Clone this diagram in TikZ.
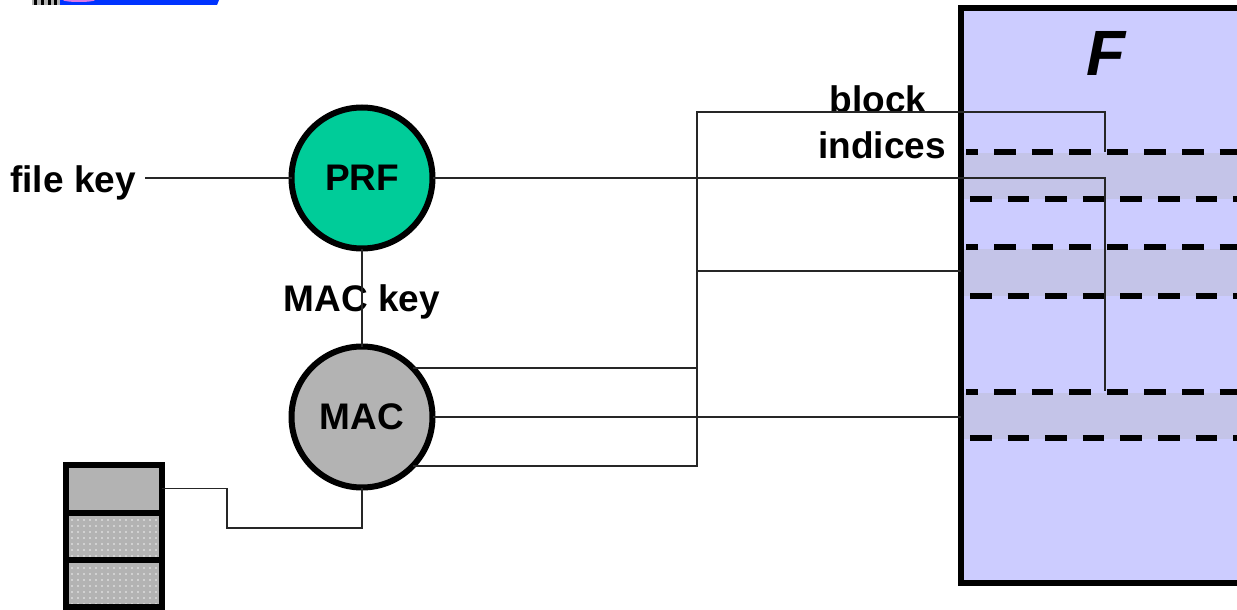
\documentclass[tikz,border=0pt]{standalone}
\usepackage{fontspec}
\setmainfont{Liberation Sans}
\usetikzlibrary{patterns.meta}
\definecolor{prfgreen}{RGB}{0,204,153}
\definecolor{macgray}{RGB}{179,179,179}
\definecolor{boxfill}{RGB}{204,204,255}
\definecolor{bandfill}{RGB}{196,196,232}
\definecolor{logoblue}{RGB}{0,51,255}
\definecolor{logopink}{RGB}{220,120,230}
\begin{document}
\begin{tikzpicture}[x=1pt,y=-1pt,
  thinline/.style={draw=black!85,line width=1.3pt},
  lbl/.style={font=\fontsize{37}{46}\selectfont\bfseries, inner sep=0pt},
  fn/.style={circle, draw=black, line width=6pt, minimum size=141pt, outer sep=0pt, font=\fontsize{37}{46}\selectfont\bfseries},
  cell/.style={draw=black, line width=6pt, minimum width=96pt, minimum height=47pt, outer sep=0pt, inner sep=0pt, anchor=north west},
  dashrow/.style={draw=black, line width=5.5pt, dash pattern=on 21.6pt off 16pt}
]
\clip (0,0) rectangle (1237,610);
% partial logo at the top-left corner
\fill[macgray] (32,0) rectangle (60,5);
\foreach \x in {34,41,48,54} \fill[black] (\x,0) rectangle ++(3,5);
\fill[logoblue] (60,0) -- (219,0) -- (217,5) -- (60,5) -- cycle;
\fill[logopink] (79,0) ellipse (16 and 2);

% file F
\node[draw=black, line width=6pt, fill=boxfill, minimum width=320pt, minimum height=575pt, outer sep=0pt, inner sep=0pt, anchor=north west] (F) at (961,8) {};
\node[font=\fontsize{64}{70}\selectfont\bfseries\itshape, inner sep=0pt] (Fl) at (1106,53) {F};
\foreach \a/\b in {153/199,249/296,393/439} \fill[bandfill] (964,\a) rectangle (1240,\b);
\foreach \y/\ph in {152/9.6,199/33.6,247/9.6,296/33.6,392/9.6,438/33.6}
  \draw[dashrow, dash phase=\ph] (966,\y) -- (1240,\y);

% functions
\node[fn, fill=prfgreen] (prf) at (362,178) {PRF};
\node[fn, fill=macgray] (mac) at (362,417) {MAC};

% labels
\node[lbl, anchor=base east] (fk) at (136,192) {file key};
\node[lbl, anchor=base] (mk) at (362,311) {MAC key};
\node[lbl, anchor=base] (bl) at (878,112) {block};
\node[lbl, anchor=base] (ind) at (882,158) {indices};

% stack of blocks
\node[cell, fill=macgray, minimum height=48.5pt] (c1) at (65.5,464.5) {};
\node[cell, preaction={fill=macgray}, pattern={Dots[distance=6pt,radius=0.8pt]}, pattern color=white!80!macgray] (c2) at (65.5,513) {};
\node[cell, preaction={fill=macgray}, pattern={Dots[distance=6pt,radius=0.8pt]}, pattern color=white!80!macgray] (c3) at (65.5,560) {};

% coordinates
\coordinate (b1) at (697,112);
\coordinate (b2) at (1105,112);
\coordinate (b3) at (1105,152);
\coordinate (r1) at (1105,178);
\coordinate (r2) at (1105,391);
\coordinate (m1) at (697,271);
\coordinate (s1) at (227,528);

% connectors
\draw[thinline] ([xshift=9pt]fk.east |- prf.west) -- (prf.west);
\draw[thinline] (prf.east) -- (r1) -- (r2);
\draw[thinline] (prf.south) -- (mac.north);
\draw[thinline] (b3) -- (b2) -- (b1) -- (mac.-44 -| b1) -- (mac.-44);
\draw[thinline] (mac.44) -- (mac.44 -| b1);
\draw[thinline] (mac.east) -- (mac.east -| F.west);
\draw[thinline] (m1) -- (m1 -| F.west);
\draw[thinline] (c1.east) -| (s1) -| (mac.south);
\end{tikzpicture}
\end{document}
